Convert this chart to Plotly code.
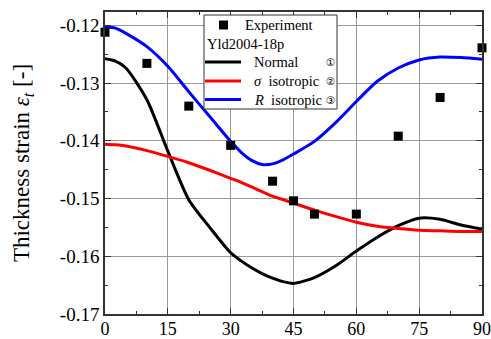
import plotly.graph_objects as go

# Experiment
exp_angle = [0, 10, 20, 30, 40, 45, 50, 60, 70, 80, 90]
exp_strain = [-0.1212, -0.1266, -0.1340, -0.1408, -0.1470, -0.1504, -0.1527, -0.1527, -0.1392, -0.1325, -0.1239]

curve_angle = [0, 2.5, 5, 10, 15, 20, 25, 30, 32.5, 35, 37.5, 40, 42.5, 45, 50, 55, 60, 65, 70, 75, 80, 85, 90]
normal = [-0.1258, -0.1262, -0.1274, -0.1329, -0.1418, -0.1502, -0.1550, -0.1594, -0.1608, -0.1620, -0.1630, -0.1638,
          -0.1644, -0.1647, -0.1637, -0.1617, -0.1591, -0.1567, -0.1547, -0.1534, -0.1536, -0.1546, -0.1553]
sigma_iso = [-0.1406, -0.1407, -0.1409, -0.1417, -0.1427, -0.1438, -0.1451, -0.1465, -0.1472, -0.1480, -0.1488, -0.1496,
             -0.1502, -0.1508, -0.1520, -0.1531, -0.1541, -0.1548, -0.1552, -0.1555, -0.1556, -0.1557, -0.1557]
r_iso = [-0.1202, -0.1205, -0.1214, -0.1237, -0.1271, -0.1315, -0.1358, -0.1401, -0.1420, -0.1434, -0.1441, -0.1440,
         -0.1433, -0.1423, -0.1401, -0.1369, -0.1332, -0.1297, -0.1274, -0.1260, -0.1255, -0.1256, -0.1259]

x_ticks = [0, 15, 30, 45, 60, 75, 90]
y_ticks = [-0.17, -0.16, -0.15, -0.14, -0.13, -0.12]
y_labels = ["-0.17", "-0.16", "-0.15", "-0.14", "-0.13", "-0.12"]

FONT = "Liberation Serif"

fig = go.Figure()
fig.add_trace(go.Scatter(x=curve_angle, y=normal, mode="lines", line=dict(color="black", width=3, shape="spline", smoothing=0.7), showlegend=False))
fig.add_trace(go.Scatter(x=curve_angle, y=sigma_iso, mode="lines", line=dict(color="#ff0000", width=3, shape="spline", smoothing=0.7), showlegend=False))
fig.add_trace(go.Scatter(x=curve_angle, y=r_iso, mode="lines", line=dict(color="#0000ff", width=3, shape="spline", smoothing=0.7), showlegend=False))
fig.add_trace(go.Scatter(x=exp_angle, y=exp_strain, mode="markers", marker=dict(symbol="square", size=9, color="black"), showlegend=False, cliponaxis=False))

L, R, T, B = 105, 9, 12, 25
W, H = 491, 339
pw, ph = W - L - R, H - T - B

def px(x):
    return (x - L) / pw

def py(y):
    return (H - B - y) / ph

shapes = []
annotations = []
# legend box
shapes.append(dict(type="rect", xref="paper", yref="paper", x0=px(204), x1=px(337), y0=py(109), y1=py(15),
                   line=dict(color="#333333", width=1), fillcolor="white", layer="above"))
# Experiment marker
shapes.append(dict(type="rect", xref="paper", yref="paper", x0=px(219), x1=px(228), y0=py(29.5), y1=py(20.5),
                   line=dict(width=0), fillcolor="black", layer="above"))
annotations.append(dict(text="Experiment", x=px(243), y=py(25), xref="paper", yref="paper", xanchor="left", yanchor="middle",
                        showarrow=False, font=dict(family=FONT, size=14.5, color="black")))
annotations.append(dict(text="Yld2004-18p", x=px(205), y=py(44), xref="paper", yref="paper", xanchor="left", yanchor="middle",
                        showarrow=False, font=dict(family=FONT, size=14.5, color="black")))
items = [("Normal", "black", 62, "\u2460"), ("<i>σ</i>  isotropic", "#ff0000", 81, "\u2461"), ("<i>R</i>  isotropic", "#0000ff", 99.5, "\u2462")]
for label, col, yy, num in items:
    shapes.append(dict(type="line", xref="paper", yref="paper", x0=px(205), x1=px(241), y0=py(yy), y1=py(yy),
                       line=dict(color=col, width=3), layer="above"))
    annotations.append(dict(text=label, x=px(252), y=py(yy), xref="paper", yref="paper", xanchor="left", yanchor="middle",
                            showarrow=False, font=dict(family=FONT, size=14.5, color="black")))
    annotations.append(dict(text=num, x=px(330), y=py(yy), xref="paper", yref="paper", xanchor="center", yanchor="middle",
                            showarrow=False, font=dict(family="DejaVu Sans", size=10.5, color="black")))

fig.update_layout(
    width=W, height=H,
    margin=dict(l=L, r=R, t=T, b=B),
    paper_bgcolor="white", plot_bgcolor="white",
    font=dict(family=FONT, size=18, color="black"),
    shapes=shapes, annotations=annotations,
    xaxis=dict(range=[0, 90], tickvals=x_ticks, ticks="inside", ticklen=6, tickcolor="#333333",
               showgrid=True, gridcolor="#999999", gridwidth=1.2,
               showline=True, linecolor="#333333", linewidth=1.5, mirror="ticks", automargin=False,
               minor=dict(tickvals=[7.5, 22.5, 37.5, 52.5, 67.5, 82.5], ticks="inside", ticklen=3, tickcolor="#333333", showgrid=False),
               zeroline=False, tickfont=dict(family=FONT, size=18), ticklabelstandoff=-2),
    yaxis=dict(range=[-0.17, -0.1177], tickvals=y_ticks, ticktext=y_labels,
               ticks="inside", ticklen=6, tickcolor="#333333",
               showgrid=True, gridcolor="#999999", gridwidth=1.2, automargin=False,
               showline=True, linecolor="#333333", linewidth=1.5, mirror="ticks",
               minor=dict(tickvals=[-0.165, -0.155, -0.145, -0.135, -0.125], ticks="inside", ticklen=3, tickcolor="#333333", showgrid=False),
               zeroline=False, tickfont=dict(family=FONT, size=19),
               title=dict(text="Thickness strain <i>ε</i><sub><i>t</i></sub> [-]", font=dict(family=FONT, size=23), standoff=24)),
)

fig.write_html("out.html")
